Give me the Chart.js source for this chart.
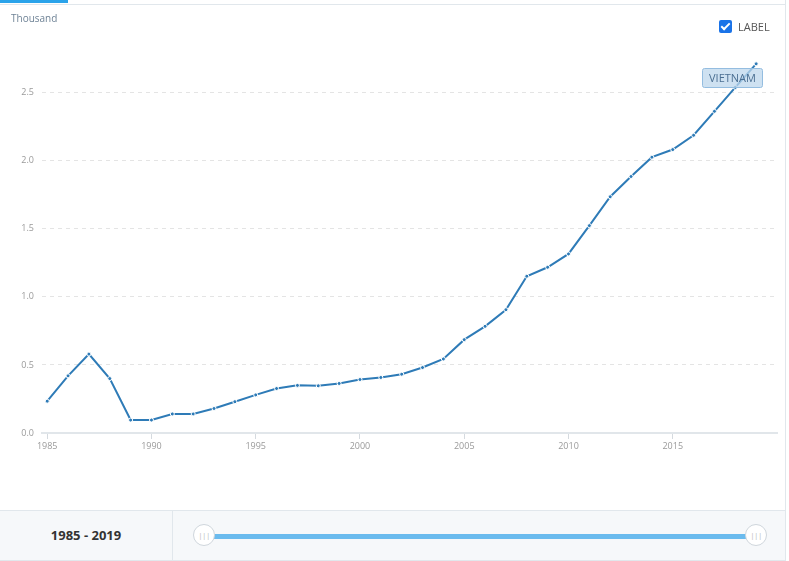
<!DOCTYPE html>
<html>
<head>
<meta charset="utf-8">
<script src="https://cdn.jsdelivr.net/npm/chart.js@4/dist/chart.umd.min.js"></script>
<style>
  body { margin: 0; background: #fff; font-family: "Open Sans", sans-serif; }
  #wrap { position: relative; width: 789px; height: 561px; overflow: hidden; }
  #topline { position: absolute; left: 0; top: 4px; width: 785px; height: 1px; background: #e1e7ec; }
  #tab { position: absolute; left: 0; top: 0; width: 68px; height: 3px; background: #2aa3ea; }
  #rborder { position: absolute; left: 785px; top: 0; width: 1px; height: 561px; background: #e1e7ec; }
  #unit { position: absolute; left: 11px; top: 11px; font-size: 10px; color: #6f8396; }
  #lbl { position: absolute; left: 719px; top: 19px; font-size: 11px; color: #555; display: flex; align-items: center; }
  #lbl span.box { width: 13px; height: 13px; background: #1a73e8; border-radius: 2px; margin-right: 6px; position: relative; }
  #lbl span.box:after { content: ""; position: absolute; left: 4px; top: 1px; width: 3px; height: 7px; border: solid #fff; border-width: 0 2px 2px 0; transform: rotate(45deg); }
  #chart { position: absolute; left: 0; top: 0; }
  #bottom { position: absolute; left: 0; top: 510px; width: 785px; height: 49px; background: #f6f8fa; border-top: 1px solid #e1e7ec; border-bottom: 1px solid #e1e7ec; }
  #years { position: absolute; left: 0; top: 0; width: 172px; height: 49px; border-right: 1px solid #e1e7ec; line-height: 49px; text-align: center; font-size: 13px; font-weight: bold; color: #333; }
  #track { position: absolute; left: 205px; top: 23px; width: 551px; height: 5px; background: #6bbbee; }
  .handle { position: absolute; top: 13px; width: 22px; height: 22px; border-radius: 50%; background: #fff; border: 1px solid #cfd6dc; box-sizing: border-box; text-align: center; line-height: 20px; font-size: 8px; color: #bbb; letter-spacing: -0.5px; }
</style>
</head>
<body>
<div id="wrap">
  <canvas id="chart" width="782" height="500"></canvas>
  <div id="topline"></div>
  <div id="tab"></div>
  <div id="rborder"></div>
  <div id="unit">Thousand</div>
  <div id="lbl"><span class="box"></span>LABEL</div>
  <div id="bottom">
    <div id="years">1985 - 2019</div>
    <div id="track"></div>
    <div class="handle" style="left:193px">|||</div>
    <div class="handle" style="left:745px">|||</div>
  </div>
</div>
<script>
// data (thousand)
const years = [1985, 1986, 1987, 1988, 1989, 1990, 1991, 1992, 1993, 1994,
  1995, 1996, 1997, 1998, 1999, 2000, 2001, 2002, 2003, 2004,
  2005, 2006, 2007, 2008, 2009, 2010, 2011, 2012, 2013, 2014,
  2015, 2016, 2017, 2018, 2019];
const vietnam = [0.234, 0.42, 0.58, 0.40, 0.095, 0.095, 0.14, 0.14, 0.18, 0.23,
  0.28, 0.327, 0.35, 0.347, 0.364, 0.393, 0.408, 0.432, 0.481, 0.544,
  0.686, 0.784, 0.906, 1.152, 1.218, 1.316, 1.524, 1.736, 1.885, 2.027,
  2.083, 2.188, 2.364, 2.54, 2.713];
const xTicks = [1985, 1990, 1995, 2000, 2005, 2010, 2015];
const yTicks = [0, 0.5, 1.0, 1.5, 2.0, 2.5];
const seriesName = 'VIETNAM';

const lineColor = '#2e7bb7';

// little tag box near the end of the line
const tagPlugin = {
  id: 'tag',
  afterDatasetsDraw(chart) {
    const ctx = chart.ctx;
    const x = 702, y = 68, w = 60, h = 19;
    ctx.save();
    ctx.fillStyle = 'rgba(190, 215, 236, 0.75)';
    ctx.strokeStyle = '#94bde0';
    ctx.lineWidth = 1;
    ctx.beginPath();
    ctx.roundRect(x + 0.5, y + 0.5, w, h, 2);
    ctx.fill();
    ctx.stroke();
    ctx.fillStyle = '#4b6f92';
    ctx.font = '11px "Open Sans"';
    ctx.textAlign = 'center';
    ctx.textBaseline = 'middle';
    ctx.fillText(seriesName, x + w / 2 + 0.5, y + h / 2 + 1);
    ctx.restore();
  }
};

new Chart(document.getElementById('chart'), {
  type: 'line',
  data: {
    datasets: [{
      label: seriesName,
      data: years.map((yr, i) => ({ x: yr, y: vietnam[i] })),
      borderColor: lineColor,
      backgroundColor: lineColor,
      borderWidth: 2,
      pointRadius: 2,
      pointBorderColor: '#fff',
      pointBorderWidth: 1,
      pointBackgroundColor: lineColor,
      tension: 0
    }]
  },
  options: {
    responsive: false,
    animation: false,
    layout: { padding: { top: 52, right: 5, left: 0, bottom: 0 } },
    plugins: { legend: { display: false }, tooltip: { enabled: false } },
    scales: {
      x: {
        type: 'linear',
        min: 1984.75,
        max: 2020,
        afterBuildTicks: s => { s.ticks = xTicks.map(v => ({ value: v })); },
        afterFit: s => { s.height = 67; },
        grid: { drawOnChartArea: false, tickLength: 6, color: '#d5dadf' },
        border: { display: true, color: '#e1e6ea', width: 2 },
        ticks: {
          color: '#9a9a9a',
          font: { family: 'Open Sans', size: 9 },
          padding: 2,
          maxRotation: 0,
          callback: v => String(v)
        }
      },
      y: {
        min: 0,
        max: 2.8,
        afterBuildTicks: s => { s.ticks = yTicks.map(v => ({ value: v })); },
        afterFit: s => { s.width = 42; },
        grid: { drawTicks: false, color: '#e4e4e4' },
        border: { display: false, dash: [4, 4] },
        ticks: {
          color: '#9a9a9a',
          font: { family: 'Open Sans', size: 9 },
          padding: 8,
          callback: v => v.toFixed(1)
        }
      }
    }
  },
  plugins: [tagPlugin]
});
</script>
</body>
</html>
